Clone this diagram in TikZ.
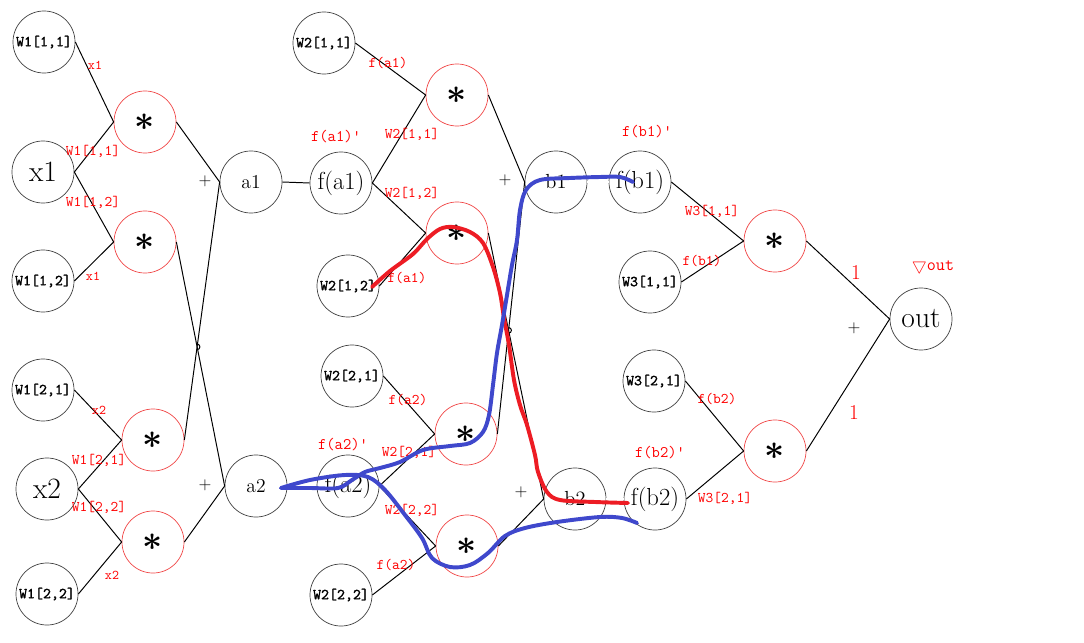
\documentclass[tikz,border=0pt]{standalone}
\usepackage{fontspec}
\newfontfamily\wfont[FakeBold=1.6]{lmmono10-regular.otf}
\definecolor{penred}{RGB}{237,28,36}
\definecolor{penblue}{RGB}{63,72,204}
\definecolor{mulred}{RGB}{240,70,70}

\tikzset{
	vnode/.style={draw=black!75,line width=0.5pt,circle,minimum size=1.55cm,inner sep=0pt},
	mulnode/.style={draw=mulred,line width=0.5pt,circle,minimum size=1.55cm,inner sep=0pt,font=\fontsize{23}{25}\selectfont\boldmath},
	wnode/.style={vnode,font=\wfont\fontsize{10.8}{12}\selectfont},
	glab/.style={text=red,inner sep=0pt,font=\ttfamily\fontsize{10.5}{12}\selectfont},
	plab/.style={inner sep=0pt,font=\fontsize{12}{13}\selectfont},
	edge/.style={line width=0.7pt},
	pen/.style={line width=2.8pt,line cap=round,line join=round}
}

\begin{document}
\begin{tikzpicture}[x=0.025cm,y=-0.025cm]
	\useasboundingbox (0,0) rectangle (1084,643);

	% inputs and first weights
	\node[wnode] (W111) at (44,42) {W1[1,1]};
	\node[vnode,font=\fontsize{21}{24}\selectfont] (x1) at (43,172) {x1};
	\node[wnode] (W112) at (43,281) {W1[1,2]};
	\node[wnode] (W121) at (43,390) {W1[2,1]};
	\node[vnode,font=\fontsize{21}{24}\selectfont] (x2) at (47,489) {x2};
	\node[wnode] (W122) at (47,594) {W1[2,2]};

	% multiply gates
	\foreach \x/\y [count=\n] in {145/122,145/242,153/440,153/542}
		\node[mulnode] (M\n) at (\x,\y) {$\ast$};
	\foreach \x/\y [count=\n] in {457/95,457/233,466/434,467/546}
		\node[mulnode] (N\n) at (\x,\y) {$\ast$};
	\foreach \x/\y [count=\n] in {775/241,775/451}
		\node[mulnode] (P\n) at (\x,\y) {$\ast$};

	\node[vnode,font=\fontsize{14}{16}\selectfont] (a1) at (251,182) {a1};
	\node[vnode,font=\fontsize{14}{16}\selectfont] (a2) at (256,486) {a2};
	\node[vnode,font=\fontsize{17.5}{20}\selectfont] (fa1) at (341,183) {f(a1)};
	\node[vnode,font=\fontsize{17.5}{20}\selectfont] (fa2) at (348,486) {f(a2)};
	\node[wnode] (W211) at (324,43) {W2[1,1]};
	\node[wnode] (W212) at (348,286) {W2[1,2]};
	\node[wnode] (W221) at (352,376) {W2[2,1]};
	\node[wnode] (W222) at (341,595) {W2[2,2]};

	\node[vnode,font=\fontsize{14.5}{16}\selectfont] (b1) at (556,182) {b1};
	\node[vnode,font=\fontsize{14.5}{16}\selectfont] (b2) at (575,499) {b2};
	\node[vnode,font=\fontsize{17.5}{20}\selectfont] (fb1) at (640,182) {f(b1)};
	\node[vnode,font=\fontsize{17.5}{20}\selectfont] (fb2) at (655,499) {f(b2)};
	\node[wnode] (W311) at (650,282) {W3[1,1]};
	\node[wnode] (W321) at (654,381) {W3[2,1]};
	\node[vnode,font=\fontsize{21}{24}\selectfont] (out) at (921,319) {out};

	% connections
	\draw[edge] (W111.east) -- (M1.west);
	\draw[edge] (x1.east) -- (M1.west);
	\draw[edge] (x1.east) -- (M2.west);
	\draw[edge] (W112.east) -- (M2.west);
	\draw[edge] (W121.east) -- (M3.west);
	\draw[edge] (x2.east) -- (M3.west);
	\draw[edge] (x2.east) -- (M4.west);
	\draw[edge] (W122.east) -- (M4.west);
	\draw[edge] (M1.east) -- (a1.west);
	\draw[edge] (M3.east) -- (a1.west);
	\draw[edge] (M2.east) -- (a2.west);
	\draw[edge] (M4.east) -- (a2.west);
	\draw[edge] (a1.east) -- (fa1.west);
	\draw[edge] (a2.east) -- (fa2.west);
	\draw[edge] (W211.east) -- (N1.west);
	\draw[edge] (fa1.east) -- (N1.west);
	\draw[edge] (fa1.east) -- (N2.west);
	\draw[edge] (W212.east) -- (N2.west);
	\draw[edge] (W221.east) -- (N3.west);
	\draw[edge] (fa2.east) -- (N3.west);
	\draw[edge] (fa2.east) -- (N4.west);
	\draw[edge] (W222.east) -- (N4.west);
	\draw[edge] (N1.east) -- (b1.west);
	\draw[edge] (N3.east) -- (b1.west);
	\draw[edge] (N2.east) -- (b2.west);
	\draw[edge] (N4.east) -- (b2.west);
	\draw[line width=0.45pt,double,double distance=1pt] (b1.east) -- (fb1.west);
	\draw[line width=0.45pt,double,double distance=1pt] (b2.east) -- (fb2.west);
	\draw[edge] (fb1.east) -- (P1.west);
	\draw[edge] (W311.east) -- (P1.west);
	\draw[edge] (W321.east) -- (P2.west);
	\draw[edge] (fb2.east) -- (P2.west);
	\draw[edge] (P1.east) -- (out.west);
	\draw[edge] (P2.east) -- (out.west);

	% jumps where lines cross
	\draw[edge] (intersection of M2.east--a2.west and M3.east--a1.west) ++(0pt,2pt) arc[start angle=90,end angle=-90,radius=2pt];
	\draw[edge] (intersection of N2.east--b2.west and N3.east--b1.west) ++(0pt,2pt) arc[start angle=90,end angle=-90,radius=2pt];

	% plus signs
	\node[plab] (s1) at (205,181) {+};
	\node[plab] (s2) at (205,485) {+};
	\node[plab] (s3) at (505,180) {+};
	\node[plab] (s4) at (521,492) {+};
	\node[plab] (s5) at (854,328) {+};

	% gradient labels
	\node[glab,font=\ttfamily\fontsize{9.5}{11}\selectfont] (g1) at (95,65) {x1};
	\node[glab] (g2) at (93,151) {W1[1,1]};
	\node[glab] (g3) at (93,202) {W1[1,2]};
	\node[glab,font=\ttfamily\fontsize{9.5}{11}\selectfont] (g4) at (93,276) {x1};
	\node[glab,font=\ttfamily\fontsize{9.5}{11}\selectfont] (g5) at (99,410) {x2};
	\node[glab] (g6) at (99,460) {W1[2,1]};
	\node[glab] (g7) at (99,507) {W1[2,2]};
	\node[glab,font=\ttfamily\fontsize{9.5}{11}\selectfont] (g8) at (112,575) {x2};
	\node[glab] (g9) at (388,63) {f(a1)};
	\node[glab,font=\ttfamily\fontsize{11.5}{13}\selectfont] (g10) at (336,137) {f(a1)'};
	\node[glab] (g11) at (412,134) {W2[1,1]};
	\node[glab] (g12) at (412,193) {W2[1,2]};
	\node[glab] (g13) at (407,278) {f(a1)};
	\node[glab] (g14) at (408,400) {f(a2)};
	\node[glab,font=\ttfamily\fontsize{11.5}{13}\selectfont] (g15) at (343,445) {f(a2)'};
	\node[glab] (g16) at (409,452) {W2[2,1]};
	\node[glab] (g17) at (412,510) {W2[2,2]};
	\node[glab] (g18) at (396,565) {f(a2)};
	\node[glab,font=\ttfamily\fontsize{11.5}{13}\selectfont] (g19) at (647,132) {f(b1)'};
	\node[glab] (g20) at (712,211) {W3[1,1]};
	\node[glab] (g21) at (702,261) {f(b1)};
	\node[glab] (g22) at (717,399) {f(b2)};
	\node[glab,font=\ttfamily\fontsize{11.5}{13}\selectfont] (g23) at (660,453) {f(b2)'};
	\node[glab] (g24) at (725,498) {W3[2,1]};
	\node[glab,font=\fontsize{15}{17}\selectfont] (g25) at (856,273) {1};
	\node[glab,font=\fontsize{15}{17}\selectfont] (g26) at (854,413) {1};
	\node[glab,font=\ttfamily\fontsize{12.5}{14}\selectfont] (gout) at (933,266) {$\bigtriangledown$out};

	% pen strokes
	\draw[pen,penred] plot[smooth,tension=0.55] coordinates {(372,287) (390,271) (413,254) (427,239) (440,229) (453,227) (470,232) (483,243) (493,267) (500,293) (504,318) (509,345) (514,380) (520,405) (527,425) (535,455) (538,472) (547,492) (560,500) (595,502) (628,503)};
	\draw[pen,penblue] plot[smooth,tension=0.55] coordinates {(281,488) (310,488) (338,488) (352,480) (365,472) (380,468) (400,462) (423,450) (450,446) (470,443) (483,432) (489,415) (493,385) (497,353) (502,325) (507,295) (512,265) (517,240) (520,210) (526,190) (540,180) (570,178) (600,177) (620,177) (633,182)};
	\draw[pen,penblue] plot[smooth,tension=0.55] coordinates {(281,488) (310,480) (345,475) (368,477) (385,490) (405,515) (422,538) (432,558) (450,567) (470,565) (488,553) (505,536) (525,528) (557,522) (600,517) (622,518) (637,523)};
\end{tikzpicture}
\end{document}
